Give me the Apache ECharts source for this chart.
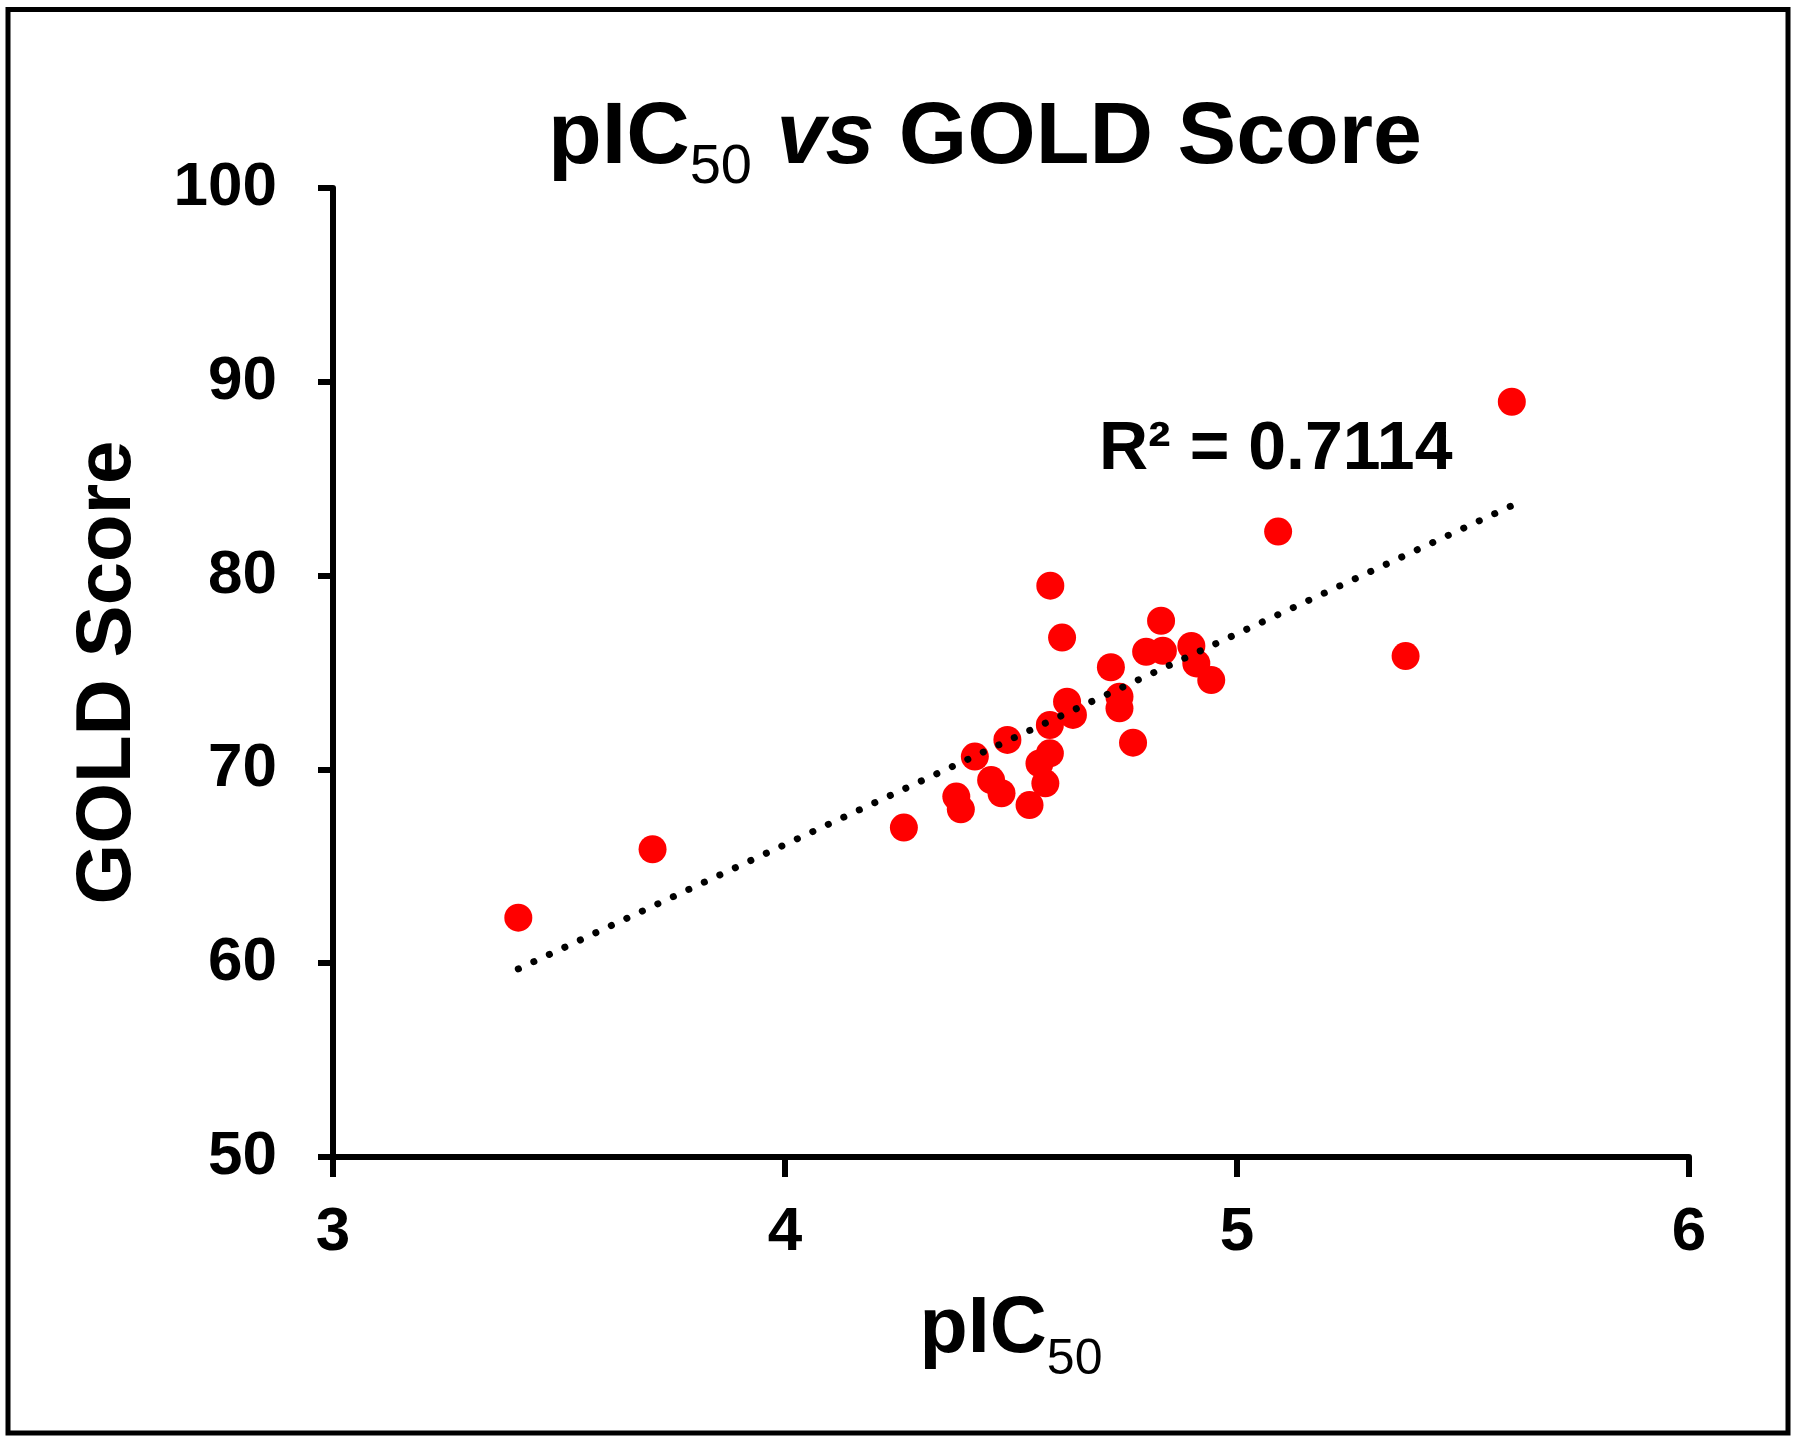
<!DOCTYPE html>
<html>
<head>
<meta charset="utf-8">
<title>pIC50 vs GOLD Score</title>
<script src="https://cdn.jsdelivr.net/npm/echarts@6/dist/echarts.min.js"></script>
<style>
	html, body { margin: 0; padding: 0; background: #fff; }
	#main { width: 1800px; height: 1446px; }
</style>
</head>
<body>
<div id="main"></div>
<script>
//pIC50 (x)
var pic50 = [3.410, 3.707, 4.263, 4.379, 4.389, 4.420, 4.456, 4.479, 4.492, 4.541,
             4.563, 4.576, 4.586, 4.586, 4.587, 4.613, 4.624, 4.637, 4.721, 4.740,
             4.740, 4.770, 4.799, 4.832, 4.836, 4.899, 4.910, 4.943, 5.091, 5.373, 5.608];
//GOLD Score (y)
var goldScore = [62.35, 65.88, 67.00, 68.60, 67.94, 70.66, 69.45, 68.77, 71.52, 68.16,
                 70.31, 69.28, 70.83, 72.29, 79.48, 76.80, 73.49, 72.81, 75.27, 73.75,
                 73.15, 71.38, 76.07, 77.67, 76.12, 76.37, 75.47, 74.61, 82.27, 75.85, 88.97];
//axis ticks: min, max, interval
var xTicks = [3, 6, 1];
var yTicks = [50, 100, 10];
var r2Text = 'R² = 0.7114';

var FONT = '"Liberation Sans", Arial, sans-serif';

//最小二乘线性趋势线
function linearFit(xs, ys){
	var n = xs.length, sx = 0, sy = 0, sxx = 0, sxy = 0;
	for(var i=0;i<n;i++){
		sx += xs[i]; sy += ys[i];
		sxx += xs[i]*xs[i]; sxy += xs[i]*ys[i];
	}
	var b = (n*sxy - sx*sy) / (n*sxx - sx*sx);
	var a = (sy - b*sx) / n;
	return {a: a, b: b};
}

var points = [];
for(var i=0;i<pic50.length;i++){
	points.push([pic50[i], goldScore[i]]);
}
var fit = linearFit(pic50, goldScore);
var xMin = Math.min.apply(null, pic50);
var xMax = Math.max.apply(null, pic50);
var trend = [[xMin, fit.a + fit.b*xMin], [xMax, fit.a + fit.b*xMax]];

var myChart = echarts.init(document.getElementById('main'));

var option = {
	animation: false,
	backgroundColor: '#fff',
	grid: {
		left: 333,
		right: 111,
		top: 188,
		bottom: 289,
		containLabel: false,
		outerBoundsMode: 'none'
	},
	xAxis: {
		type: 'value',
		min: xTicks[0],
		max: xTicks[1],
		interval: xTicks[2],
		name: '{m|pIC}{s|50}',
		nameLocation: 'middle',
		nameGap: 133,
		nameTextStyle: {
			rich: {
				m: { fontFamily: FONT, fontWeight: 'bold', fontSize: 79, lineHeight: 80, color: '#000' },
				s: { fontFamily: FONT, fontSize: 50, lineHeight: 50, padding: [61, 0, 0, 0], color: '#000' }
			}
		},
		axisLine: { show: true, onZero: false, lineStyle: { color: '#000', width: 6 } },
		axisTick: { show: true, inside: false, length: 20, lineStyle: { color: '#000', width: 6 } },
		axisLabel: { margin: 45, fontFamily: FONT, fontWeight: 'bold', fontSize: 62, color: '#000' },
		splitLine: { show: false }
	},
	yAxis: {
		type: 'value',
		min: yTicks[0],
		max: yTicks[1],
		interval: yTicks[2],
		name: 'GOLD Score',
		nameLocation: 'middle',
		nameGap: 186,
		nameTextStyle: { fontFamily: FONT, fontWeight: 'bold', fontSize: 78, color: '#000' },
		axisLine: { show: true, onZero: false, lineStyle: { color: '#000', width: 6 } },
		axisTick: { show: true, inside: false, length: 15, lineStyle: { color: '#000', width: 6 } },
		axisLabel: { margin: 56, fontFamily: FONT, fontWeight: 'bold', fontSize: 62, color: '#000' },
		splitLine: { show: false }
	},
	graphic: [
		{
			type: 'rect',
			shape: { x: 8, y: 9.5, width: 1780, height: 1423.5 },
			style: { fill: null, stroke: '#000', lineWidth: 5 },
			silent: true
		},
		{
			type: 'text',
			x: 985,
			y: 139,
			style: {
				text: '{m|pIC}{s|50}{m| }{i|vs}{m| GOLD Score}',
				align: 'center',
				verticalAlign: 'middle',
				rich: {
					m: { fontFamily: FONT, fontWeight: 'bold', fontSize: 88, lineHeight: 90, fill: '#000' },
					i: { fontFamily: FONT, fontWeight: 'bold', fontStyle: 'italic', fontSize: 88, lineHeight: 90, fill: '#000' },
					s: { fontFamily: FONT, fontSize: 56, lineHeight: 56, padding: [58, 0, 0, 0], fill: '#000' }
				}
			}
		},
		{
			type: 'text',
			x: 1099,
			y: 450,
			z: 10,
			style: {
				text: r2Text,
				fontFamily: FONT,
				fontWeight: 'bold',
				fontSize: 68,
				fill: '#000',
				verticalAlign: 'middle'
			}
		}
	],
	series: [
		{
			name: 'GOLD Score',
			type: 'scatter',
			data: points,
			symbol: 'circle',
			symbolSize: 28,
			itemStyle: { color: '#ff0000', opacity: 1 },
			z: 2
		},
		{
			name: '线性趋势线',
			type: 'line',
			data: trend,
			showSymbol: false,
			symbol: 'none',
			silent: true,
			lineStyle: { color: '#000', width: 7, type: [0.1, 17], cap: 'round' },
			z: 3
		}
	]
};

myChart.setOption(option);
</script>
</body>
</html>
